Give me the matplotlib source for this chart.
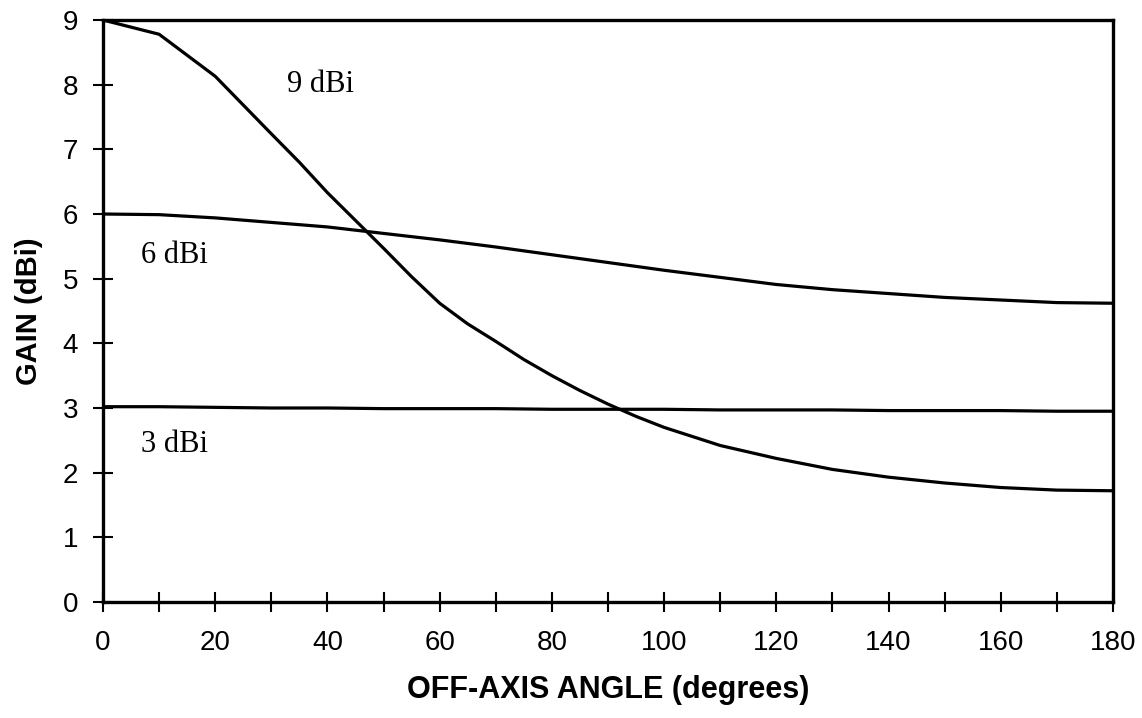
import matplotlib
matplotlib.use("Agg")
import matplotlib.pyplot as plt
from matplotlib.ticker import MultipleLocator

# off-axis angle (deg) and gain curves
angle_9 = [0, 10, 20, 30, 35, 40, 45, 50, 55, 60, 65, 70, 75, 80, 85, 90, 95, 100,
           110, 120, 130, 140, 150, 160, 170, 180]
gain_9dbi = [9.0, 8.78, 8.13, 7.24, 6.8, 6.33, 5.9, 5.47, 5.03, 4.62, 4.3, 4.03, 3.75,
             3.5, 3.27, 3.06, 2.87, 2.7, 2.42, 2.22, 2.05, 1.93, 1.84, 1.77, 1.73, 1.72]

angle = [0, 10, 20, 30, 40, 50, 60, 70, 80, 90, 100, 110, 120, 130, 140, 150, 160, 170, 180]
gain_6dbi = [6.0, 5.99, 5.94, 5.87, 5.8, 5.7, 5.6, 5.49, 5.37, 5.25, 5.13, 5.02, 4.91,
             4.83, 4.77, 4.71, 4.67, 4.63, 4.62]
gain_3dbi = [3.02, 3.02, 3.01, 3.0, 3.0, 2.99, 2.99, 2.99, 2.98, 2.98, 2.98, 2.97, 2.97,
             2.97, 2.96, 2.96, 2.96, 2.95, 2.95]

labels = ["9 dBi", "6 dBi", "3 dBi"]
label_pos = [(38.7, 8.0), (12.8, 5.36), (12.8, 2.43)]

plt.rcParams['font.family'] = ['Liberation Sans', 'DejaVu Sans']

fig = plt.figure(figsize=(11.42, 7.18), dpi=100)
ax = fig.add_axes([0.0902, 0.1616, 0.8844, 0.8105])

ax.plot(angle_9, gain_9dbi, color='black', linewidth=2.3)
ax.plot(angle, gain_6dbi, color='black', linewidth=2.3)
ax.plot(angle, gain_3dbi, color='black', linewidth=2.3)

for txt, (x, y) in zip(labels, label_pos):
    ax.text(x, y, txt, fontsize=22, family=['Liberation Serif'], ha='center', va='center')

ax.set_xlim(0, 180)
ax.set_ylim(0, 9)
ax.xaxis.set_major_locator(MultipleLocator(20))
ax.xaxis.set_minor_locator(MultipleLocator(10))
ax.yaxis.set_major_locator(MultipleLocator(1))

ax.tick_params(which='both', direction='inout', length=14, width=1.5, labelsize=20,
               color='black')
ax.tick_params(axis='x', pad=13)
ax.tick_params(axis='y', pad=11)

for s in ax.spines.values():
    s.set_linewidth(2.4)

ax.set_xlabel("OFF-AXIS ANGLE (degrees)", fontsize=22, fontweight='bold', labelpad=14)
ax.set_ylabel("GAIN (dBi)", fontsize=21, fontweight='bold', labelpad=14)

fig.savefig("out.png", dpi=100)
